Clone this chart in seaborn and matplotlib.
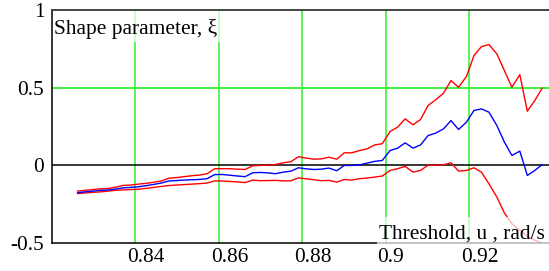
import numpy as np
import pandas as pd
import matplotlib
matplotlib.use("Agg")
import matplotlib.pyplot as plt
from matplotlib.patches import Rectangle
from matplotlib.transforms import ScaledTranslation
import seaborn as sns

threshold = [0.8261, 0.8279, 0.8298, 0.8316, 0.8334, 0.8352, 0.8371, 0.8389, 0.8407, 0.8426,
             0.8444, 0.8462, 0.8480, 0.8499, 0.8517, 0.8535, 0.8554, 0.8572, 0.8590, 0.8608,
             0.8627, 0.8645, 0.8663, 0.8682, 0.8700, 0.8718, 0.8736, 0.8755, 0.8773, 0.8791,
             0.8810, 0.8828, 0.8846, 0.8864, 0.8883, 0.8901, 0.8919, 0.8938, 0.8956, 0.8974,
             0.8992, 0.9011, 0.9029, 0.9047, 0.9066, 0.9084, 0.9102, 0.9120, 0.9139, 0.9157,
             0.9175, 0.9194, 0.9212, 0.9230, 0.9248, 0.9267, 0.9285, 0.9303, 0.9322, 0.9340,
             0.9358, 0.9376]

xi_upper = [-0.165, -0.160, -0.155, -0.150, -0.148, -0.140, -0.128, -0.126, -0.120, -0.115,
            -0.108, -0.100, -0.082, -0.078, -0.072, -0.066, -0.062, -0.053, -0.021, -0.021,
            -0.021, -0.024, -0.026, -0.002, 0.000, 0.002, 0.006, 0.017, 0.024, 0.056,
            0.047, 0.040, 0.042, 0.053, 0.040, 0.081, 0.081, 0.096, 0.107, 0.132,
            0.139, 0.218, 0.246, 0.299, 0.261, 0.295, 0.385, 0.421, 0.464, 0.545,
            0.502, 0.571, 0.705, 0.763, 0.776, 0.716, 0.609, 0.502, 0.583, 0.348,
            0.417, 0.498]

xi_est = [-0.175, -0.170, -0.165, -0.160, -0.158, -0.152, -0.144, -0.141, -0.137, -0.130,
          -0.122, -0.113, -0.100, -0.097, -0.094, -0.092, -0.090, -0.085, -0.059, -0.058,
          -0.063, -0.068, -0.072, -0.047, -0.045, -0.048, -0.053, -0.043, -0.037, -0.015,
          -0.022, -0.026, -0.024, -0.017, -0.034, 0.000, 0.000, 0.004, 0.015, 0.026,
          0.032, 0.096, 0.111, 0.145, 0.111, 0.132, 0.192, 0.207, 0.235, 0.288,
          0.231, 0.278, 0.353, 0.363, 0.342, 0.256, 0.150, 0.064, 0.092, -0.064,
          -0.032, 0.006]

xi_lower = [-0.181, -0.177, -0.173, -0.170, -0.165, -0.160, -0.157, -0.155, -0.153, -0.147,
            -0.141, -0.135, -0.129, -0.126, -0.123, -0.120, -0.117, -0.113, -0.099, -0.100,
            -0.103, -0.106, -0.110, -0.094, -0.098, -0.097, -0.096, -0.099, -0.099, -0.080,
            -0.086, -0.092, -0.098, -0.096, -0.107, -0.090, -0.094, -0.085, -0.081, -0.075,
            -0.068, -0.032, -0.021, -0.006, -0.043, -0.032, 0.002, 0.002, 0.004, 0.017,
            -0.036, -0.032, -0.015, -0.043, -0.118, -0.203, -0.305, -0.374, -0.417, -0.455,
            -0.480, -0.500]

x_ticks = [0.84, 0.86, 0.88, 0.9, 0.92]
x_tick_labels = ["0.84", "0.86", "0.88", "0.9", "0.92"]
y_ticks = [-0.5, 0, 0.5, 1]
y_tick_labels = ["-0.5", "0", "0.5", "1"]

df = pd.DataFrame({"u": threshold, "upper": xi_upper, "est": xi_est, "lower": xi_lower})

sns.set_theme(style="white")
plt.rcParams["font.family"] = ["Liberation Serif", "DejaVu Serif"]

W, H = 549, 271
FS = 15.4
fig = plt.figure(figsize=(W / 100, H / 100), dpi=100)
ax = fig.add_axes([52 / W, 1 - 243.3 / H, 1 - 52 / W, (243.3 - 9.7) / H])

grid_col = "#3ef03e"
for xv in x_ticks:
    ax.axvline(xv, color=grid_col, lw=1.2, zorder=1)
ax.axhline(0.5, color=grid_col, lw=1.4, zorder=1)
ax.axhline(0, color="black", lw=1.1, zorder=1.5)

sns.lineplot(data=df, x="u", y="upper", ax=ax, color="#ff0000", lw=1.0, zorder=2)
sns.lineplot(data=df, x="u", y="lower", ax=ax, color="#ff0000", lw=1.0, zorder=2)
sns.lineplot(data=df, x="u", y="est", ax=ax, color="#0000ff", lw=1.0, zorder=2)

ax.set_xlim(0.82, 0.9392)
ax.set_ylim(-0.5, 1)
ax.set_xlabel("")
ax.set_ylabel("")
ax.set_xticks(x_ticks)
ax.set_xticklabels(x_tick_labels)
ax.set_yticks(y_ticks)
ax.set_yticklabels(y_tick_labels)
ax.tick_params(axis="both", length=0, labelsize=FS, colors="black")
ax.tick_params(axis="y", pad=5.5)
ax.tick_params(axis="x", pad=3.5)
for lab in ax.get_xticklabels():
    lab.set_horizontalalignment("left")
    lab.set_transform(lab.get_transform() + ScaledTranslation(-8 / 100, 0, fig.dpi_scale_trans))

for s in ["left", "bottom"]:
    ax.spines[s].set_color("black")
    ax.spines[s].set_linewidth(1.1)
ax.spines["top"].set_color("#444444")
ax.spines["top"].set_linewidth(1.4)
ax.spines["right"].set_visible(False)

# label boxes (semi-transparent white)
def px_rect(x0, y0, x1, y1):
    r = Rectangle((x0 / W, 1 - y1 / H), (x1 - x0) / W, (y1 - y0) / H,
                  transform=fig.transFigure, facecolor="white", edgecolor="none",
                  alpha=0.7, zorder=3)
    fig.add_artist(r)

px_rect(53, 10.5, 221, 42)
px_rect(377, 217, 549, 246)

fig.text(54 / W, 1 - 34.5 / H, "Shape parameter, ξ", fontsize=FS, color="black",
         ha="left", va="baseline", zorder=4)
fig.text(379 / W, 1 - 238.5 / H, "Threshold, u , rad/s", fontsize=FS, color="black",
         ha="left", va="baseline", zorder=4)

fig.savefig("out.png", dpi=100)
